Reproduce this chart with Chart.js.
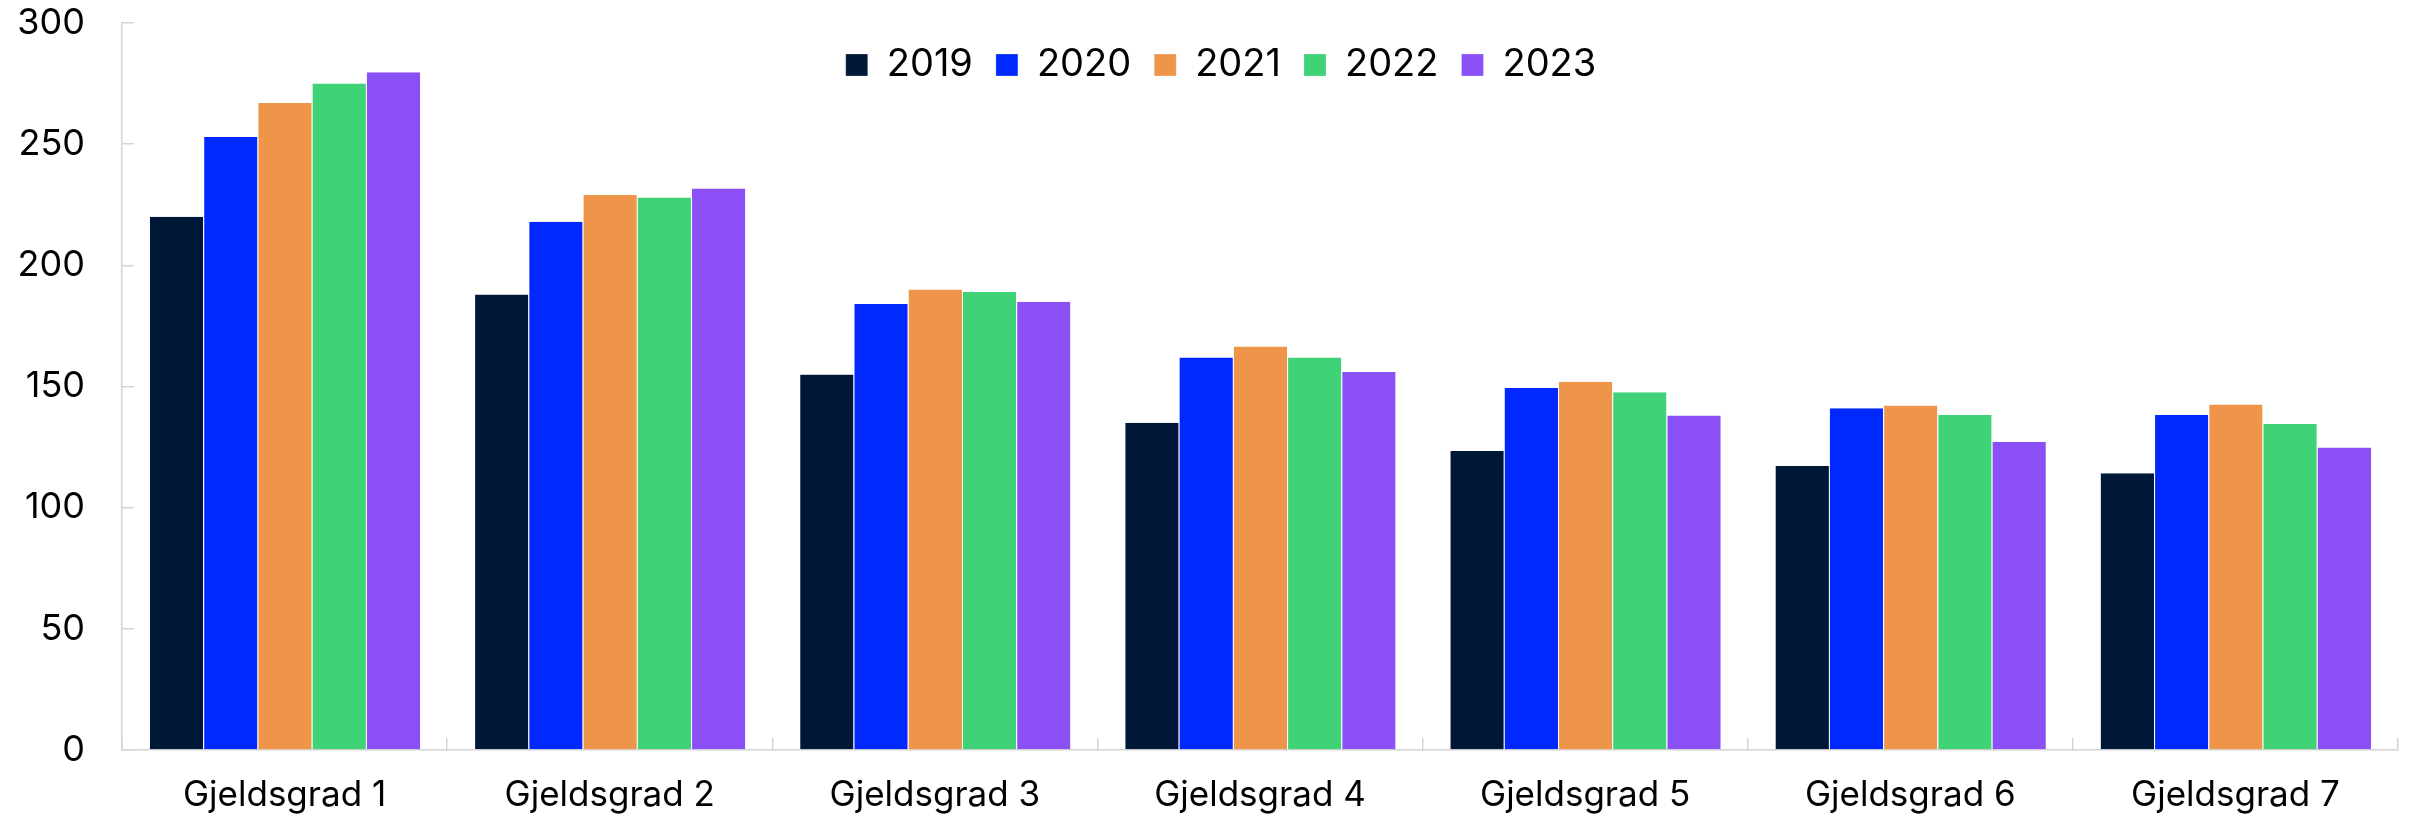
<!DOCTYPE html>
<html>
<head>
<meta charset="utf-8">
<script src="https://cdn.jsdelivr.net/npm/chart.js@4/dist/chart.umd.min.js"></script>
<style>
html,body{margin:0;padding:0;background:#fff;}
#wrap{width:2414px;height:825px;position:relative;}
</style>
</head>
<body>
<div id="wrap"><canvas id="c" width="2414" height="825"></canvas></div>
<script>
const categories = ["Gjeldsgrad 1","Gjeldsgrad 2","Gjeldsgrad 3","Gjeldsgrad 4","Gjeldsgrad 5","Gjeldsgrad 6","Gjeldsgrad 7"];
const seriesNames = ["2019","2020","2021","2022","2023"];
const v2019 = [220, 188, 155, 135, 123.4, 117.2, 114.2];
const v2020 = [253, 218, 184, 162, 149.4, 141, 138.2];
const v2021 = [267, 229, 190, 166.5, 152, 142.2, 142.6];
const v2022 = [275, 228, 189, 162, 147.6, 138.2, 134.5];
const v2023 = [279.7, 231.7, 185, 156, 138, 127.2, 124.8];
const yTicks = [0, 50, 100, 150, 200, 250, 300];
const colors = ["#001838", "#0028FF", "#EF954A", "#3FD276", "#8B4FF6"];
const seriesValues = [v2019, v2020, v2021, v2022, v2023];

const FONT = "Inter, 'Liberation Sans', Arial, sans-serif";

// Legend overlays the plot area (takes no layout space), centred like the original.
const LEGEND_CENTER_X = 1221;
const LEGEND_TOP = 23;
const overlayLegend = {
  id: 'overlayLegend',
  beforeLayout(chart) {
    const lg = chart.legend;
    if (lg && !lg._overlayPatched) {
      const orig = lg.fit.bind(lg);
      lg.fit = function () { orig(); this.height = 0; };
      lg._overlayPatched = true;
    }
  },
  afterLayout(chart) {
    const lg = chart.legend;
    if (lg) {
      const d = LEGEND_CENTER_X - (lg.left + lg.right) / 2;
      lg.left += d; lg.right += d;
      lg.top = LEGEND_TOP; lg.height = 90; lg.bottom = LEGEND_TOP + 90;
    }
  }
};

new Chart(document.getElementById('c'), {
  type: 'bar',
  data: {
    labels: categories,
    datasets: seriesNames.map((n, i) => ({
      label: n,
      data: seriesValues[i],
      backgroundColor: colors[i],
      borderColor: '#ffffff',
      borderWidth: {left: 1, right: 0, top: 0, bottom: 0},
      borderSkipped: false,
      categoryPercentage: 0.834,
      barPercentage: 1.0
    }))
  },
  options: {
    responsive: false,
    animation: false,
    devicePixelRatio: 1,
    layout: { padding: { left: 0, right: 16, top: 23, bottom: 0 } },
    plugins: {
      legend: {
        position: 'top',
        align: 'center',
        labels: {
          boxWidth: 22, boxHeight: 22, padding: 23,
          color: '#000',
          font: { family: FONT, size: 38 }
        }
      },
      tooltip: { enabled: false }
    },
    scales: {
      x: {
        grid: { display: true, drawOnChartArea: false, drawTicks: true, tickLength: -12, color: '#d4d4d4', lineWidth: 1.5, offset: true },
        border: { display: true, color: '#d4d4d4', width: 1.5 },
        ticks: { color: '#000', font: { family: FONT, size: 35 }, padding: 36, maxRotation: 0 },
        afterFit: s => { s.height = 75; s.paddingLeft = 0; s.paddingRight = 0; }
      },
      y: {
        min: 0, max: 300,
        afterBuildTicks: s => { s.ticks = yTicks.map(v => ({ value: v })); },
        grid: { display: true, drawOnChartArea: false, drawTicks: true, tickLength: -12, color: '#d4d4d4', lineWidth: 1.5 },
        border: { display: true, color: '#d4d4d4', width: 1.5 },
        ticks: { color: '#000', font: { family: FONT, size: 36 }, padding: 49 },
        afterFit: s => { s.width = 122; s.paddingTop = 0; s.paddingBottom = 0; }
      }
    }
  },
  plugins: [overlayLegend]
});
</script>
</body>
</html>
